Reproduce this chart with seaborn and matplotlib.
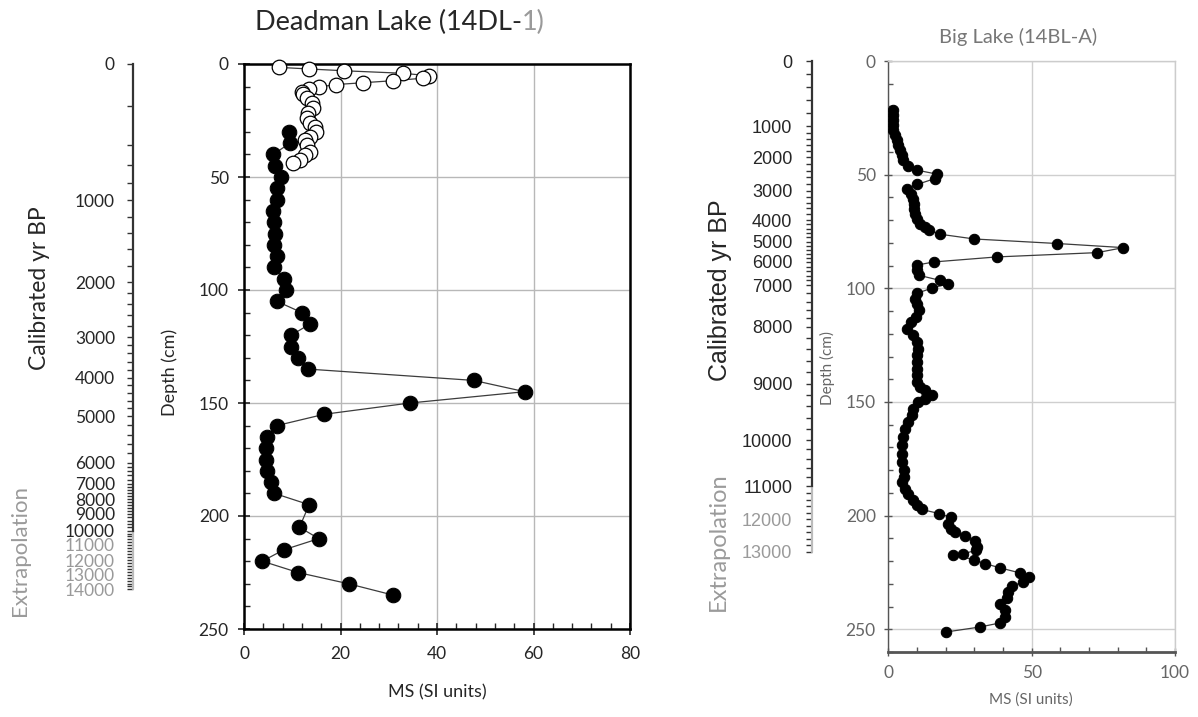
import numpy as np
import pandas as pd
import seaborn as sns
import matplotlib.pyplot as plt
from matplotlib.ticker import MultipleLocator

sns.set_style("white")
plt.rcParams['font.family'] = ['Lato', 'DejaVu Sans']

# Deadman Lake (14DL-1): open circles (top of core) and filled circles
dl_open_depth = [1.5, 2.2, 3.0, 4.1, 5.2, 6.3, 7.4, 8.3, 9.1, 10.2, 11.2, 12.5, 13.4, 15.2,
                 17.4, 19.6, 21.8, 24.0, 26.2, 27.7, 30.0, 32.2, 33.6, 35.8, 38.8, 40.3, 42.5, 43.7]
dl_open_ms = [7.3, 13.5, 20.8, 32.9, 38.4, 37.0, 30.8, 24.6, 19.0, 15.5, 13.5, 12.1, 12.3, 13.0,
              14.0, 14.4, 13.3, 13.0, 13.7, 14.7, 15.0, 13.7, 12.6, 13.0, 13.7, 12.6, 11.6, 10.2]
dl_fill_depth = [30, 35, 40, 45, 50, 55, 60, 65, 70, 75, 80, 85, 90, 95, 100, 105, 110, 115, 120,
                 125, 130, 135, 140, 145, 150, 155, 160, 165, 170, 175, 180, 185, 190, 195,
                 205, 210, 215, 220, 225, 230, 235]
dl_fill_ms = [9.4, 9.5, 6.1, 6.5, 7.6, 6.9, 6.9, 6.1, 6.3, 6.4, 6.2, 6.8, 6.3, 8.2, 8.8, 6.8, 12.0,
              13.7, 9.8, 9.7, 11.2, 13.3, 47.6, 58.2, 34.4, 16.6, 6.8, 4.7, 4.6, 4.6, 4.7, 5.6,
              6.3, 13.5, 11.5, 15.5, 8.2, 3.8, 11.2, 21.7, 30.9]

# Big Lake (14BL-A)
bl_depth = [21.6, 23.8, 26.0, 28.2, 30.4, 32.6, 34.8, 37.0, 39.2, 41.4, 43.6, 46.2, 48.0, 49.8,
            51.7, 54.3, 56.4, 58.3, 60.5, 62.7, 64.9, 67.1, 69.3, 71.5, 73.0, 74.4, 76.2, 78.3,
            80.3, 82.1, 84.3, 86.2, 88.4, 89.8, 92.0, 94.3, 96.5, 97.9, 100.0, 102.2, 104.5,
            106.7, 109.6, 112.5, 114.7, 117.7, 120.6, 123.5, 126.5, 129.4, 132.3, 135.3, 138.2,
            141.1, 143.3, 144.8, 147.0, 148.5, 150.0, 152.9, 155.8, 158.8, 161.7, 165.4, 169.0,
            172.7, 176.3, 180.0, 183.0, 185.2, 188.1, 190.3, 193.2, 195.4, 197.3, 199.1, 200.8,
            203.5, 205.7, 207.2, 209.1, 211.2, 213.8, 215.3, 216.8, 217.3, 219.4, 221.1, 223.0,
            225.2, 227.0, 229.2, 231.1, 233.6, 236.1, 239.0, 241.6, 244.6, 247.2, 249.0, 251.2]
bl_ms = [1.7, 1.7, 1.7, 1.7, 1.7, 2.3, 2.9, 3.5, 4.1, 4.7, 5.2, 7.0, 9.9, 17.1,
         16.3, 10.1, 6.6, 7.8, 8.7, 9.0, 9.0, 9.3, 9.9, 11.1, 12.8, 14.3, 18.0, 30.0,
         59.0, 82.0, 72.9, 37.8, 15.9, 9.9, 10.1, 10.8, 18.0, 20.9, 15.1, 9.9, 9.3,
         10.1, 10.8, 9.7, 7.8, 6.6, 8.7, 9.9, 10.5, 10.1, 9.9, 10.1, 9.9,
         10.1, 11.1, 12.8, 15.1, 12.8, 10.5, 8.7, 8.2, 7.0, 5.8, 5.2, 4.7,
         4.7, 4.7, 5.5, 5.5, 4.7, 5.8, 7.0, 8.7, 9.9, 11.6, 17.8, 21.8,
         20.9, 21.8, 23.3, 26.8, 30.2, 31.0, 30.6, 26.0, 22.7, 29.9, 33.7, 39.0,
         45.9, 49.2, 46.9, 43.0, 41.9, 41.3, 39.0, 40.7, 40.7, 39.0, 32.0, 20.1]

# age-depth scales (calibrated yr BP -> depth cm)
dl_ages = [0, 200, 400, 600, 800, 1000, 2000, 3000, 4000, 5000, 6000, 7000, 8000, 9000,
           10000, 11000, 12000, 13000, 14000]
dl_age_depth = [0, 18.6, 36.0, 44.8, 52.5, 60.2, 96.6, 120.9, 138.8, 155.8, 176.4, 185.8,
                192.5, 199.1, 206.5, 212.8, 219.5, 226.1, 232.4]
bl_ages = [0, 1000, 2000, 3000, 4000, 5000, 6000, 7000, 8000, 9000, 10000, 11000, 12000, 13000]
bl_age_depth = [0, 28.8, 42.4, 57.1, 70.0, 79.5, 88.4, 98.6, 116.9, 141.9, 166.8, 187.1,
                201.7, 216.0]

W, H = 1198, 717
GRAY = '#9a9a9a'
ARIAL = ['Liberation Sans', 'DejaVu Sans']
fig = plt.figure(figsize=(W / 100, H / 100), dpi=100)


def fx(x):
    return x / W


def fy(y):
    return 1 - y / H


def age_axis(rect, ymax, ages, depths, black_until, fontfam, size, pad, step_ages):
    axa = fig.add_axes(rect)
    axa.set_xlim(0, 1)
    axa.set_ylim(ymax, 0)
    for s in ['top', 'right', 'bottom']:
        axa.spines[s].set_visible(False)
    d_black = np.interp(black_until, ages, depths)
    axa.spines['left'].set_bounds(0, d_black)
    axa.spines['left'].set_color('#333333')
    axa.spines['left'].set_linewidth(1.6)
    axa.plot([0, 0], [d_black, depths[-1]], color='#bbbbbb', lw=1.6, clip_on=False)
    axa.set_xticks([])
    lab_ages = [a for a in ages if a % 1000 == 0]
    axa.set_yticks(np.interp(lab_ages, ages, depths))
    axa.set_yticklabels([str(a) for a in lab_ages], family=fontfam, fontsize=size)
    minor_ages = [a for a in step_ages if a % 1000 != 0]
    axa.set_yticks(np.interp(minor_ages, ages, depths), minor=True)
    axa.tick_params(axis='y', which='both', left=True, direction='out', length=4, width=1,
                    pad=pad, color='#333333')
    for a, lab, tk in zip(lab_ages, axa.get_yticklabels(), axa.yaxis.get_major_ticks()):
        if a > black_until:
            lab.set_color(GRAY)
            tk.tick1line.set_color('#bbbbbb')
    for a, tk in zip(minor_ages, axa.yaxis.get_minor_ticks()):
        if a > black_until:
            tk.tick1line.set_color('#bbbbbb')
    return axa


# ---------------- Deadman Lake ----------------
ax1 = fig.add_axes([fx(244), fy(629), fx(630) - fx(244), fy(64) - fy(629)])
df_fill = pd.DataFrame({'ms': dl_fill_ms, 'depth': dl_fill_depth})
df_open = pd.DataFrame({'ms': dl_open_ms, 'depth': dl_open_depth})
sns.lineplot(data=df_fill, x='ms', y='depth', sort=False, estimator=None, ax=ax1,
             color='#3c3c3c', linewidth=0.9, marker='o', markersize=10.5,
             markerfacecolor='black', markeredgecolor='black', zorder=3, clip_on=False)
sns.lineplot(data=df_open, x='ms', y='depth', sort=False, estimator=None, ax=ax1,
             color='#3c3c3c', linewidth=0.9, marker='o', markersize=10.5,
             markerfacecolor='white', markeredgecolor='black', markeredgewidth=0.9,
             zorder=4, clip_on=False)
ax1.set_xlim(0, 80)
ax1.set_ylim(250, 0)
ax1.set_xticks(range(0, 81, 20))
ax1.set_yticks(range(0, 251, 50))
ax1.xaxis.set_minor_locator(MultipleLocator(4))
ax1.yaxis.set_minor_locator(MultipleLocator(10))
ax1.grid(True, which='major', color='#b8b8b8', linewidth=1)
ax1.set_axisbelow(True)
for s in ax1.spines.values():
    s.set_color('black')
    s.set_linewidth(1.8)
ax1.tick_params(which='both', left=True, bottom=True)
ax1.tick_params(which='major', direction='inout', length=8, width=1.2, labelsize=12.5, pad=7)
ax1.tick_params(which='minor', direction='in', length=4, width=1)
ax1.tick_params(axis='x', which='major', pad=8)
ax1.set_xlabel('')
ax1.set_ylabel('')

t1 = fig.text(fx(255), fy(22), 'Deadman Lake (14DL-', fontsize=19.5, ha='left', va='center')
ax1.annotate('1)', xy=(1, 0), xycoords=t1, ha='left', va='bottom', fontsize=19.5,
             color=GRAY, annotation_clip=False)
fig.text(fx(437), fy(692), 'MS (SI units)', fontsize=13, ha='center', va='center')
fig.text(fx(170), fy(372), 'Depth (cm)', fontsize=13, rotation=90, ha='center', va='center')
fig.text(fx(40), fy(288), 'Calibrated yr BP', fontsize=16.5, rotation=90, ha='center',
         va='center')
fig.text(fx(20), fy(550), 'Extrapolation', fontsize=16, rotation=90, ha='center',
         va='center', color=GRAY)

age_axis([fx(133), fy(629), 0.02, fy(64) - fy(629)], 250, dl_ages, dl_age_depth, 10000,
         'Lato', 12.5, 9, range(0, 14001, 200))

# ---------------- Big Lake ----------------
ax2 = fig.add_axes([fx(888.3), fy(652), fx(1175) - fx(888.3), fy(61) - fy(652)])
df_bl = pd.DataFrame({'ms': bl_ms, 'depth': bl_depth})
sns.lineplot(data=df_bl, x='ms', y='depth', sort=False, estimator=None, ax=ax2,
             color='#3c3c3c', linewidth=0.9, marker='o', markersize=7.5,
             markerfacecolor='black', markeredgecolor='black', zorder=3)
ax2.set_xlim(0, 100)
ax2.set_ylim(260, 0)
ax2.set_xticks([0, 50, 100])
ax2.set_yticks(range(0, 251, 50))
ax2.xaxis.set_minor_locator(MultipleLocator(10))
ax2.yaxis.set_minor_locator(MultipleLocator(10))
ax2.grid(True, which='major', color='#cfcfcf', linewidth=1)
ax2.set_axisbelow(True)
ax2.spines['left'].set_color('#555555')
ax2.spines['left'].set_linewidth(1)
ax2.spines['bottom'].set_color('#555555')
ax2.spines['bottom'].set_linewidth(2)
for s in ['top', 'right']:
    ax2.spines[s].set_color('#cccccc')
    ax2.spines[s].set_linewidth(1)
ax2.tick_params(which='both', left=True, bottom=True)
ax2.tick_params(which='major', direction='inout', length=6, width=1, labelsize=12.5,
                pad=6, color='#555555', labelcolor='#666666')
ax2.tick_params(which='minor', direction='in', length=3.5, width=1, color='#555555')
ax2.set_xlabel('')
ax2.set_ylabel('')

fig.text(fx(1018), fy(37), 'Big Lake (14BL-A)', fontsize=14.5, ha='center', va='center',
         color='#777777')
fig.text(fx(1031), fy(700), 'MS (SI units)', fontsize=11, ha='center', va='center',
         color='#666666')
fig.text(fx(827), fy(368), 'Depth (cm)', fontsize=11, rotation=90, ha='center',
         va='center', color='#666666')
fig.text(fx(720), fy(290), 'Calibrated yr BP', fontsize=18, rotation=90, ha='center',
         va='center', family=ARIAL)
fig.text(fx(718), fy(542), 'Extrapolation', fontsize=17, rotation=90, ha='center',
         va='center', color=GRAY)

age_axis([fx(811.7), fy(652), 0.02, fy(61) - fy(652)], 260, bl_ages, bl_age_depth, 11000,
         ARIAL, 13, 10, range(0, 13001, 200))

fig.savefig('out.png', dpi=100)
